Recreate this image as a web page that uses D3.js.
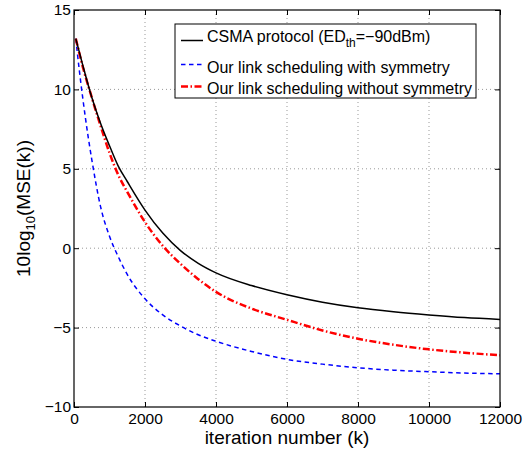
<!DOCTYPE html>
<html><head><meta charset="utf-8">
<script src="https://cdn.jsdelivr.net/npm/d3@7"></script>
<style>body{margin:0;background:#fff;} svg{display:block;font-family:"Liberation Sans",Arial,sans-serif;}</style>
</head><body>
<svg id="c" width="529" height="449"></svg>
<script>
const xTicks = [0,2000,4000,6000,8000,10000,12000];
const yTicks = [-10,-5,0,5,10,15];
const kCsma =      [50,250,500,750,1000,1250,1500,2000,2500,3000,3500,4000,5000,6000,7000,8000,9000,10000,11000,12000];
const csma =       [13.2,11.5,9.5,7.85,6.45,5.15,4.2,2.4,0.95,-0.15,-0.95,-1.55,-2.35,-2.93,-3.4,-3.75,-4.0,-4.2,-4.37,-4.49];
const kWithout =   [50,250,500,750,1000,1250,1500,2000,2500,3000,3500,4000,5000,6000,7000,8000,9000,10000,11000,12000];
const withoutSym = [13.2,11.4,9.5,7.7,6.0,4.6,3.55,1.64,0.15,-0.98,-1.95,-2.75,-3.8,-4.51,-5.18,-5.7,-6.08,-6.37,-6.58,-6.74];
const kWith =      [50,150,250,400,500,750,1000,1250,1500,2000,2500,3000,3500,4000,5000,6000,7000,8000,9000,10000,11000,12000];
const withSym =    [13.2,11.2,9.4,7.0,5.6,2.6,0.75,-0.55,-1.65,-3.19,-4.2,-4.9,-5.45,-5.86,-6.5,-7.0,-7.3,-7.53,-7.68,-7.78,-7.86,-7.91];
const seriesNames = ["CSMA protocol (ED", "Our link scheduling with symmetry", "Our link scheduling without symmetry"];

const svg = d3.select("#c");
const L=74,R=500,T=10,B=407;
const x = d3.scaleLinear().domain([0,12000]).range([L,R]);
const y = d3.scaleLinear().domain([-10,15]).range([B,T]);

// grid
const g = svg.append("g");
xTicks.slice(1,-1).forEach(t=>g.append("line").attr("x1",x(t)).attr("x2",x(t)).attr("y1",T).attr("y2",B)
  .attr("stroke","#999").attr("stroke-width",1).attr("stroke-dasharray","1,3"));
yTicks.slice(1,-1).forEach(t=>g.append("line").attr("x1",L).attr("x2",R).attr("y1",y(t)).attr("y2",y(t))
  .attr("stroke","#999").attr("stroke-width",1).attr("stroke-dasharray","1,3"));

// axes
const fs=15.5;
const ax = svg.append("g").attr("transform",`translate(0,${B})`)
  .call(d3.axisBottom(x).tickValues(xTicks).tickSizeInner(-5).tickSizeOuter(0).tickPadding(6).tickFormat(d3.format("d")));
const ay = svg.append("g").attr("transform",`translate(${L},0)`)
  .call(d3.axisLeft(y).tickValues(yTicks).tickSizeInner(-5).tickSizeOuter(0).tickPadding(3).tickFormat(d=>d<0?"\u2212"+Math.abs(d):d));
const axTop = svg.append("g").attr("transform",`translate(0,${T})`)
  .call(d3.axisTop(x).tickValues(xTicks).tickSizeInner(-5).tickSizeOuter(0).tickFormat(""));
const ayR = svg.append("g").attr("transform",`translate(${R},0)`)
  .call(d3.axisRight(y).tickValues(yTicks).tickSizeInner(-5).tickSizeOuter(0).tickFormat(""));
[ax,ay,axTop,ayR].forEach(a=>{a.select(".domain").remove();a.selectAll("line").attr("stroke","#000");
  a.selectAll("text").attr("font-size",fs).attr("font-family","Liberation Sans, Arial, sans-serif").attr("fill","#000");});
ax.selectAll("text").attr("dy","0.71em");

// lines
const mkLine = ks => d3.line().x((d,i)=>x(ks[i])).y(d=>y(d)).curve(d3.curveMonotoneX);
svg.append("defs").append("clipPath").attr("id","pc").append("rect").attr("x",L).attr("y",T).attr("width",R-L).attr("height",B-T);
const lg = svg.append("g").attr("clip-path","url(#pc)");
lg.append("path").datum(withSym).attr("d",mkLine(kWith)).attr("fill","none").attr("stroke","#0000ff").attr("stroke-width",1.5).attr("stroke-dasharray","4.5,3.5");
lg.append("path").datum(withoutSym).attr("d",mkLine(kWithout)).attr("fill","none").attr("stroke","#ff0000").attr("stroke-width",2.5).attr("stroke-dasharray","7,2.5,1.5,2.5");
lg.append("path").datum(csma).attr("d",mkLine(kCsma)).attr("fill","none").attr("stroke","#000").attr("stroke-width",1.5);

// frame
svg.append("rect").attr("x",L).attr("y",T).attr("width",R-L).attr("height",B-T).attr("fill","none").attr("stroke","#000").attr("stroke-width",1.2);

// axis labels
svg.append("text").attr("x",(L+R)/2).attr("y",444).attr("text-anchor","middle").attr("font-size",19).text("iteration number (k)");
const yl = svg.append("text").attr("transform",`translate(30,${(T+B)/2}) rotate(-90)`).attr("text-anchor","middle").attr("font-size",19);
yl.append("tspan").text("10log");
yl.append("tspan").attr("font-size",13).attr("dy",5).text("10");
yl.append("tspan").attr("dy",-5).text("(MSE(k))");

// legend
const lgd = svg.append("g");
lgd.append("rect").attr("x",175).attr("y",24).attr("width",301).attr("height",74).attr("fill","#fff").attr("stroke","#000").attr("stroke-width",1);
const rows=[{y:40.5,tb:42,st:"#000",w:1.5,da:null},{y:64.5,tb:73,st:"#0000ff",w:1.5,da:"4.5,3.5"},{y:86.5,tb:94,st:"#ff0000",w:2.5,da:"7,2.5,1.5,2.5"}];
rows.forEach((r,i)=>{
  const l=lgd.append("line").attr("x1",181).attr("x2",203).attr("y1",r.y).attr("y2",r.y).attr("stroke",r.st).attr("stroke-width",r.w);
  if(r.da) l.attr("stroke-dasharray",r.da);
  const t=lgd.append("text").attr("x",207).attr("y",r.tb).attr("font-size",16).text(seriesNames[i]);
  if(i===0){t.append("tspan").attr("font-size",12).attr("dy",5).text("th");t.append("tspan").attr("dy",-5).text("=\u221290dBm)");}
});
</script>
</body></html>
